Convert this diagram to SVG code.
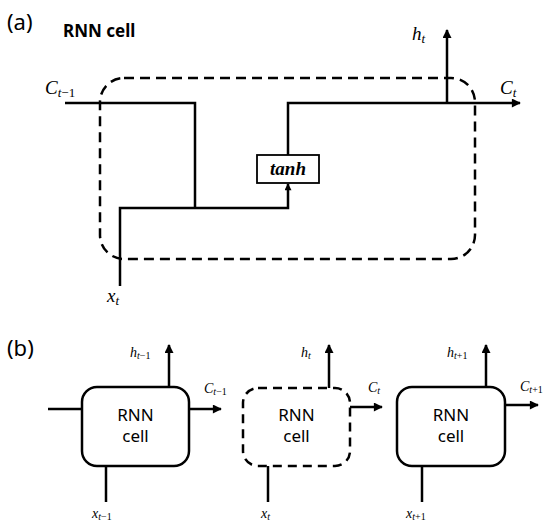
<svg xmlns="http://www.w3.org/2000/svg" width="550" height="532" viewBox="0 0 550 532">
<defs>
<marker id="arr" viewBox="0 0 10 10" refX="9" refY="5" markerWidth="10" markerHeight="9" markerUnits="userSpaceOnUse" orient="auto">
<path d="M0,0 L10,5 L0,10 Z" fill="#000"/>
</marker>
<marker id="arrs" viewBox="0 0 10 10" refX="9" refY="5" markerWidth="8" markerHeight="7" markerUnits="userSpaceOnUse" orient="auto">
<path d="M0,0 L10,5 L0,10 Z" fill="#000"/>
</marker>
</defs>
<style>
.ln{fill:none;stroke:#000;stroke-width:2.5}
.dash{fill:none;stroke:#000;stroke-width:2.5;stroke-dasharray:10 6}
.sans{font-family:"Noto Sans","Open Sans",sans-serif;fill:#000}
.math{font-family:"Liberation Serif","DejaVu Serif",serif;font-style:italic;fill:#000}
.up{font-style:normal}
.cell{fill:#fff;stroke:#000;stroke-width:2.5}
.celld{fill:#fff;stroke:#000;stroke-width:2.5;stroke-dasharray:9 6}
</style>
<rect width="550" height="532" fill="#fff"/>

<text class="sans" x="7" y="30" font-size="22">(a)</text>
<text class="sans" x="63" y="37" font-size="17" font-weight="bold">RNN cell</text>

<g id="rnn-cell-a">
<rect class="dash" x="100" y="78" width="375" height="181" rx="24" ry="24"/>
</g>

<g id="tanh">
<rect x="257" y="155" width="62" height="28" fill="#fff" stroke="#000" stroke-width="1.8"/>
<text x="288" y="175" text-anchor="middle" font-family="Liberation Serif,DejaVu Serif,serif" font-style="italic" font-weight="bold" font-size="19">tanh</text>
</g>

<g id="connectors">
<polyline class="ln" points="65,103 195,103 195,208"/>
<polyline class="ln" points="120,286 120,208 288,208 288,184" marker-end="url(#arrs)"/>
<polyline class="ln" points="288,155 288,103 520,103" marker-end="url(#arr)"/>
<line class="ln" x1="447" y1="103" x2="447" y2="30" marker-end="url(#arr)"/>

<line class="ln" x1="48" y1="409" x2="82" y2="409"/>
<line class="ln" x1="169" y1="387" x2="169" y2="345" marker-end="url(#arr)"/>
<line class="ln" x1="189" y1="409" x2="221" y2="409" marker-end="url(#arr)"/>
<line class="ln" x1="106" y1="466" x2="106" y2="502"/>

<line class="ln" x1="329" y1="388" x2="329" y2="345" marker-end="url(#arr)"/>
<line class="ln" x1="350" y1="407" x2="382" y2="407" marker-end="url(#arr)"/>
<line class="ln" x1="268" y1="466" x2="268" y2="502"/>

<line class="ln" x1="486" y1="387" x2="486" y2="345" marker-end="url(#arr)"/>
<line class="ln" x1="505" y1="405" x2="538" y2="405" marker-end="url(#arr)"/>
<line class="ln" x1="422" y1="466" x2="422" y2="502"/>
</g>

<g id="labels-a">
<text class="math" x="45" y="94" font-size="19">C<tspan font-size="13" dy="3">t</tspan><tspan class="up" font-size="13">−1</tspan></text>
<text class="math" x="412" y="40" font-size="19">h<tspan font-size="13" dy="3">t</tspan></text>
<text class="math" x="500" y="94" font-size="19">C<tspan font-size="13" dy="3">t</tspan></text>
<text class="math" x="107" y="302" font-size="19">x<tspan font-size="13" dy="3">t</tspan></text>
</g>

<text class="sans" x="7" y="356" font-size="22">(b)</text>

<g id="cell-t-1">
<rect class="cell" x="82" y="387" width="107" height="79" rx="15" ry="15"/>
<text class="sans" x="135.5" y="421" font-size="17" text-anchor="middle">RNN</text>
<text class="sans" x="135.5" y="442" font-size="17" text-anchor="middle">cell</text>
</g>
<g id="cell-t">
<rect class="celld" x="243" y="388" width="107" height="78" rx="15" ry="15"/>
<text class="sans" x="296.5" y="421" font-size="17" text-anchor="middle">RNN</text>
<text class="sans" x="296.5" y="442" font-size="17" text-anchor="middle">cell</text>
</g>
<g id="cell-t+1">
<rect class="cell" x="397" y="387" width="108" height="79" rx="15" ry="15"/>
<text class="sans" x="451" y="421" font-size="17" text-anchor="middle">RNN</text>
<text class="sans" x="451" y="442" font-size="17" text-anchor="middle">cell</text>
</g>

<g id="labels-b">
<text class="math" x="130" y="357" font-size="14">h<tspan font-size="10" dy="2">t</tspan><tspan class="up" font-size="10">−1</tspan></text>
<text class="math" x="204" y="393" font-size="14">C<tspan font-size="10" dy="2">t</tspan><tspan class="up" font-size="10">−1</tspan></text>
<text class="math" x="92" y="518" font-size="14">x<tspan font-size="10" dy="2">t</tspan><tspan class="up" font-size="10">−1</tspan></text>
<text class="math" x="301" y="357" font-size="14">h<tspan font-size="10" dy="2">t</tspan></text>
<text class="math" x="368" y="392" font-size="14">C<tspan font-size="10" dy="2">t</tspan></text>
<text class="math" x="261" y="518" font-size="14">x<tspan font-size="10" dy="2">t</tspan></text>
<text class="math" x="447" y="357" font-size="14">h<tspan font-size="10" dy="2">t</tspan><tspan class="up" font-size="10">+1</tspan></text>
<text class="math" x="520" y="391" font-size="14">C<tspan font-size="10" dy="2">t</tspan><tspan class="up" font-size="10">+1</tspan></text>
<text class="math" x="406" y="518" font-size="14">x<tspan font-size="10" dy="2">t</tspan><tspan class="up" font-size="10">+1</tspan></text>
</g>
</svg>
